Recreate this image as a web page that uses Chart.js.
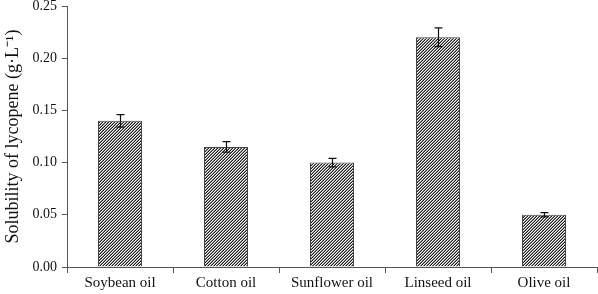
<!DOCTYPE html>
<html>
<head>
<meta charset="utf-8">
<script src="https://cdn.jsdelivr.net/npm/chart.js@4"></script>
<style>
html,body{margin:0;padding:0;background:#fff;}
#wrap{width:598px;height:294px;position:relative;}
</style>
</head>
<body>
<div id="wrap"><canvas id="c"></canvas></div>
<script>
const categories = ["Soybean oil", "Cotton oil", "Sunflower oil", "Linseed oil", "Olive oil"];
const solubility = [0.140, 0.115, 0.100, 0.220, 0.050];
const errors = [0.006, 0.005, 0.004, 0.009, 0.002];
const yTicks = [0, 0.05, 0.10, 0.15, 0.20, 0.25];

function makePattern() {
  const p = document.createElement('canvas');
  p.width = 3; p.height = 3;
  const g = p.getContext('2d');
  const img = g.createImageData(3, 3);
  for (let y = 0; y < 3; y++) {
    for (let x = 0; x < 3; x++) {
      const k = (x + y) % 3;
      const c = k === 2 ? 30 : (k === 1 ? 140 : 250);
      const i = (y * 3 + x) * 4;
      img.data[i] = c; img.data[i + 1] = c; img.data[i + 2] = c; img.data[i + 3] = 255;
    }
  }
  g.putImageData(img, 0, 0);
  return document.getElementById('c').getContext('2d').createPattern(p, 'repeat');
}

const errorBars = {
  id: 'errorBars',
  afterDatasetsDraw(chart) {
    const ctx = chart.ctx;
    const meta = chart.getDatasetMeta(0);
    const ys = chart.scales.y;
    ctx.save();
    ctx.strokeStyle = '#111';
    ctx.lineWidth = 1.2;
    meta.data.forEach((bar, i) => {
      const x = Math.round(bar.x) + 0.5;
      const top = ys.getPixelForValue(solubility[i] + errors[i]);
      const bot = ys.getPixelForValue(solubility[i] - errors[i]);
      ctx.beginPath();
      ctx.moveTo(x, top); ctx.lineTo(x, bot);
      ctx.moveTo(x - 4, top); ctx.lineTo(x + 4, top);
      ctx.moveTo(x - 4, bot); ctx.lineTo(x + 4, bot);
      ctx.stroke();
    });
    ctx.restore();
  }
};

const fontFam = '"Liberation Serif", "Times New Roman", serif';

new Chart(document.getElementById('c'), {
  type: 'bar',
  data: {
    labels: categories,
    datasets: [{
      data: solubility,
      backgroundColor: makePattern(),
      borderColor: '#444',
      borderWidth: 1,
      barPercentage: 0.83,
      categoryPercentage: 0.5
    }]
  },
  options: {
    responsive: true,
    maintainAspectRatio: false,
    animation: false,
    layout: { padding: { top: 0, right: 1, left: 0, bottom: 0 } },
    plugins: { legend: { display: false }, tooltip: { enabled: false } },
    scales: {
      x: {
        grid: { display: true, drawOnChartArea: false, drawTicks: true, tickLength: 6, color: '#555', offset: true },
        border: { display: true, color: '#555', width: 1 },
        ticks: { color: '#111', font: { family: fontFam, size: 15 }, padding: 1, maxRotation: 0 },
        afterFit(scale) { scale.height = 27; }
      },
      y: {
        min: 0, max: 0.25,
        afterBuildTicks(scale) { scale.ticks = yTicks.map(v => ({ value: v })); },
        grid: { display: true, drawOnChartArea: false, drawTicks: true, tickLength: 5, color: '#555' },
        border: { display: true, color: '#555', width: 1 },
        ticks: { color: '#111', font: { family: fontFam, size: 14 }, padding: 5,
                 callback: v => Number(v).toFixed(2) },
        title: { display: true, text: 'Solubility of lycopene (g·L⁻¹)', color: '#111',
                 font: { family: fontFam, size: 18 }, padding: { top: 2, bottom: 2 } },
        afterFit(scale) { scale.width = 67; scale.paddingTop = 6; scale.paddingBottom = 0; }
      }
    }
  },
  plugins: [errorBars]
});
</script>
</body>
</html>
